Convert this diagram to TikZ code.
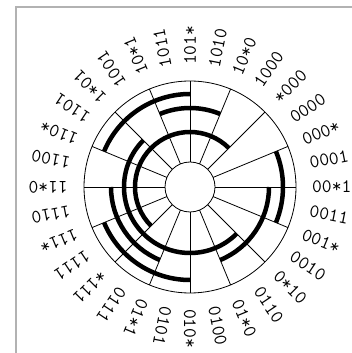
\documentclass[tikz,border=0pt]{standalone}
\usetikzlibrary{positioning,calc}

\tikzset{
  frameline/.style={draw=black!30, line width=1.2pt},
  spoke/.style={draw=black, line width=0.8pt},
  ring/.style={draw=black, line width=0.8pt},
  bitarc/.style={draw=black, line width=4.5pt},
  code/.style={font=\ttfamily\fontsize{19}{19}\selectfont, inner sep=0pt, anchor=west}
}

\begin{document}
\begin{tikzpicture}[x=1pt,y=1pt]
  \useasboundingbox (0,0) rectangle (352,353);
  % frame, only top and left edges show
  \draw[frameline] (16,0) -- (16,346) -- (352,346);

  \coordinate (O) at (190,166);

  % rings
  \draw[ring] (O) circle (25);
  \draw[ring] (O) circle (106);

  % spokes at every transition
  \foreach \a in {0,22.5,...,337.5}
    \draw[spoke] ($(O)+(\a:25)$) -- ($(O)+(\a:106)$);

  % bit arcs
  \draw[bitarc] ($(O)+(45:55)$) arc (45:225:55);
  \draw[bitarc] ($(O)+(135:66)$) arc (135:315:66);
  \draw[bitarc] ($(O)+(67.5:79)$) arc (67.5:112.5:79);
  \draw[bitarc] ($(O)+(180:79)$) arc (180:247.5:79);
  \draw[bitarc] ($(O)+(292.5:79)$) arc (292.5:360:79);
  \draw[bitarc] ($(O)+(90:93)$) arc (90:157.5:93);
  \draw[bitarc] ($(O)+(202.5:93)$) arc (202.5:270:93);
  \draw[bitarc] ($(O)+(-22.5:93)$) arc (-22.5:22.5:93);

  % codes round the wheel
  \foreach \t [count=\i from 0] in {00*1,0001,000*,0000,*000,1000,10*0,1010,
      101*,1011,10*1,1001,1*01,1101,110*,1100,
      11*0,1110,111*,1111,*111,0111,01*1,0101,
      010*,0100,01*0,0110,0*10,0010,001*,0011}
    \node[code, rotate=\i*11.25] (c\i) at ($(O)+(\i*11.25:122)$) {\t};
\end{tikzpicture}
\end{document}
